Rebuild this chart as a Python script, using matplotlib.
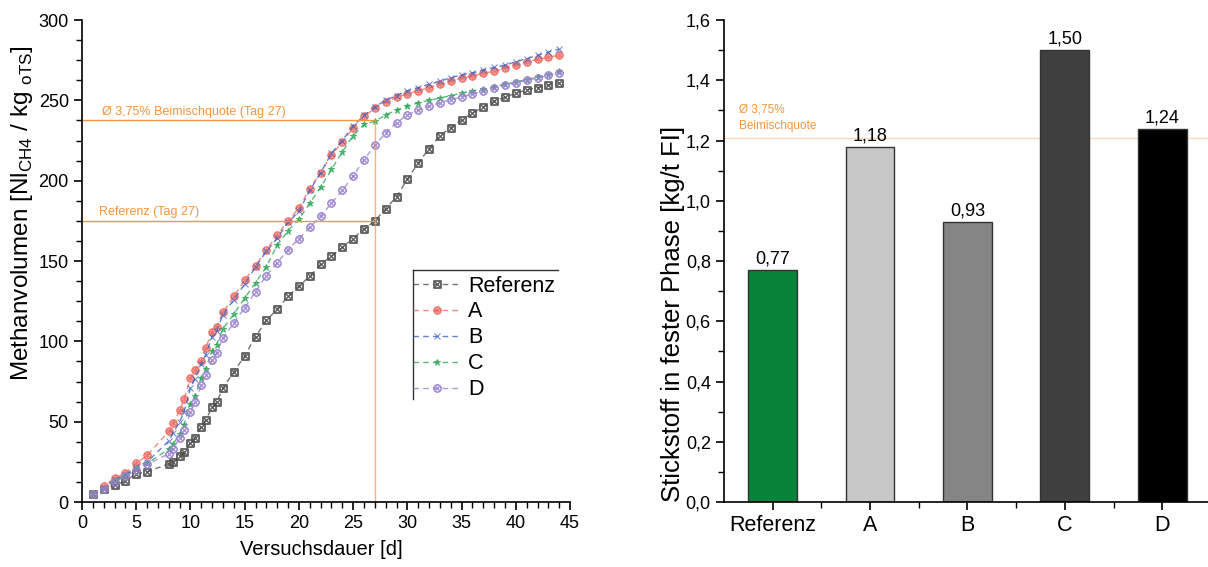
import matplotlib
matplotlib.use("Agg")
import matplotlib.pyplot as plt
from matplotlib.ticker import MultipleLocator, FuncFormatter
import numpy as np

plt.rcParams['font.family'] = ['Liberation Sans', 'DejaVu Sans']
plt.rcParams['mathtext.fontset'] = 'custom'
plt.rcParams['mathtext.rm'] = 'Liberation Sans'

# --- Methanvolumen (left) ---
tage = [1, 2, 3, 4, 5, 6, 8, 8.4, 9, 9.4, 10, 10.4, 11, 11.4, 12, 12.4, 13, 14, 15, 16,
        17, 18, 19, 20, 21, 22, 23, 24, 25, 26, 27, 28, 29, 30, 31, 32, 33, 34, 35, 36,
        37, 38, 39, 40, 41, 42, 43, 44]

referenz = [5, 8.4, 10.4, 13, 17.7, 18.8, 23.8, 24.8, 28.6, 31, 37, 40, 47, 51, 59, 62, 71, 81, 91, 103,
            113, 120, 128, 134.5, 140.5, 148, 153, 158.5, 164, 170, 175, 182.5, 190, 201, 211, 220, 228, 233, 238, 242,
            246, 249.5, 252, 254.5, 256.5, 258, 259.5, 261]
serie_a = [5, 9.8, 15, 18, 24, 29, 44, 49, 57, 64, 77, 82, 88, 96, 106, 109, 118, 128, 138, 147,
           157, 166, 175, 183, 195, 205, 216, 224, 233, 240, 245, 249, 252, 254, 256, 258, 260, 262, 264, 265,
           267, 268, 270, 272, 274, 275.5, 277, 278]
serie_b = [5, 8.8, 14, 16.7, 22, 25, 38, 43, 50, 56, 71, 76.6, 86, 91.6, 103, 106.5, 116.7, 126, 135.7, 146.5,
           156, 164.3, 174, 181, 194, 205, 217, 225, 234, 240.6, 246, 250, 253, 256, 258, 260, 262, 264, 266, 267,
           269, 270.5, 272, 274, 276, 278, 280, 282]
serie_c = [5, 8.8, 14, 16, 21, 24, 33, 36, 42.6, 48, 61, 66, 77, 83, 94, 98, 108, 117, 127, 136.5,
           146.5, 160, 169, 176, 186, 196, 207, 218, 228, 235, 237, 241, 244, 246.5, 248.5, 250, 251.5, 253, 254.5, 256,
           257, 258.5, 260, 261.5, 263, 264.5, 266, 268]
serie_d = [5, 8.4, 12.5, 16, 20, 23.4, 30, 33, 40, 44.7, 56, 62, 73, 79, 88.5, 92.7, 102, 111.5, 121, 131,
           141, 149, 157, 164, 171, 178, 186, 194, 203, 213, 222, 230, 236, 241, 244, 246.5, 248.5, 250.5, 252, 254,
           256, 258, 259.5, 261, 262.5, 264, 265.5, 267]

serien = ['Referenz', 'A', 'B', 'C', 'D']
werte_linien = [referenz, serie_a, serie_b, serie_c, serie_d]
farben_linien = ['#505050', '#f06a60', '#3d62c4', '#2fa858', '#9a80d0']
marker_linien = [r'$\boxtimes$', r'$\circledast$', 'x', '*', r'$\otimes$']

tag_marke = 27
mittel_tag27 = 237.5
ref_tag27 = 175

# --- Stickstoff (right) ---
stickstoff = [0.77, 1.18, 0.93, 1.50, 1.24]
farben_balken = ['#08843a', '#c8c8c8', '#858585', '#404040', '#000000']
beimisch_n = 1.21

orange = '#f7953a'

fig = plt.figure(figsize=(12.08, 5.67), dpi=100)
ax1 = fig.add_axes([0.0679, 0.1146, 0.404, 0.850])
ax2 = fig.add_axes([0.5993, 0.1146, 0.4007, 0.850])

for name, w, c, m in zip(serien, werte_linien, farben_linien, marker_linien):
    ms = 5.5 if m.startswith('$') else 4.5
    ax1.plot(tage, w, linestyle=(0, (4, 3)), color=c, linewidth=1.0, marker=m,
             markersize=ms, markeredgewidth=0.7, alpha=0.8, label=name)

ax1.plot([0, tag_marke], [mittel_tag27, mittel_tag27], color=orange, lw=1)
ax1.plot([0, tag_marke], [ref_tag27, ref_tag27], color=orange, lw=1)
ax1.plot([tag_marke, tag_marke], [0, mittel_tag27], color=orange, lw=1, alpha=0.7)
ax1.text(1.8, mittel_tag27 + 1.5, 'Ø 3,75% Beimischquote (Tag 27)', color=orange, fontsize=9, va='bottom')
ax1.text(1.6, ref_tag27 + 1.5, 'Referenz (Tag 27)', color=orange, fontsize=9, va='bottom')

ax1.set_xlim(0, 45)
ax1.set_ylim(0, 300)
ax1.xaxis.set_major_locator(MultipleLocator(5))
ax1.xaxis.set_minor_locator(MultipleLocator(1))
ax1.yaxis.set_major_locator(MultipleLocator(50))
ax1.yaxis.set_minor_locator(MultipleLocator(12.5))
ax1.set_xlabel('Versuchsdauer [d]', fontsize=14.5)
ax1.set_ylabel(r'Methanvolumen [Nl$_{\mathrm{CH4}}$ / kg $_{\mathrm{oTS}}$]', fontsize=17.5)
ax1.xaxis.set_label_coords(0.49, -0.078)
ax1.yaxis.set_label_coords(-0.097, 0.60)

leg = ax1.legend(loc='upper left', bbox_to_anchor=(0.679, 0.470), frameon=False, fontsize=15.5,
                 handlelength=2.2, handletextpad=0.35, borderaxespad=0, labelspacing=0.23,
                 borderpad=0)
ax1.plot([0.678, 0.975], [0.481, 0.481], transform=ax1.transAxes, color='#333333', lw=1, clip_on=False)
ax1.plot([0.678, 0.678], [0.481, 0.214], transform=ax1.transAxes, color='#333333', lw=1, clip_on=False)

pos = np.arange(1, len(serien) + 1)
ax2.bar(pos, stickstoff, width=0.5, color=farben_balken, edgecolor='#333333', linewidth=1, zorder=2)
for x, v in zip(pos, stickstoff):
    ax2.text(x, v + 0.008, f'{v:.2f}'.replace('.', ','), ha='center', va='bottom', fontsize=13)
ax2.axhline(beimisch_n, color='#fbd9bd', lw=1, zorder=1)
ax2.text(0.65, 1.23, 'Ø 3,75%\nBeimischquote', color=orange, fontsize=8.5, va='bottom', linespacing=1.4)

ax2.set_xlim(0.5, 5.47)
ax2.set_ylim(0, 1.6)
ax2.set_xticks(pos)
ax2.set_xticklabels(serien, fontsize=15.5)
ax2.set_xticks(pos[:-1] + 0.5, minor=True)
ax2.yaxis.set_major_locator(MultipleLocator(0.2))
ax2.yaxis.set_minor_locator(MultipleLocator(0.1))
ax2.yaxis.set_major_formatter(FuncFormatter(lambda v, p: f'{v:.1f}'.replace('.', ',')))
ax2.set_ylabel('Stickstoff in fester Phase [kg/t FI]', fontsize=18.5)
ax2.yaxis.set_label_coords(-0.08, 0.39)

for ax in (ax1, ax2):
    ax.spines['top'].set_visible(False)
    ax.spines['right'].set_visible(False)
    for s in ('left', 'bottom'):
        ax.spines[s].set_linewidth(1.2)
    ax.tick_params(which='major', length=6, width=1.2)
    ax.tick_params(which='minor', length=4, width=1.0)
ax1.tick_params(which='major', labelsize=13)
ax2.tick_params(axis='y', which='major', labelsize=13)

fig.savefig('out.png', dpi=100)
